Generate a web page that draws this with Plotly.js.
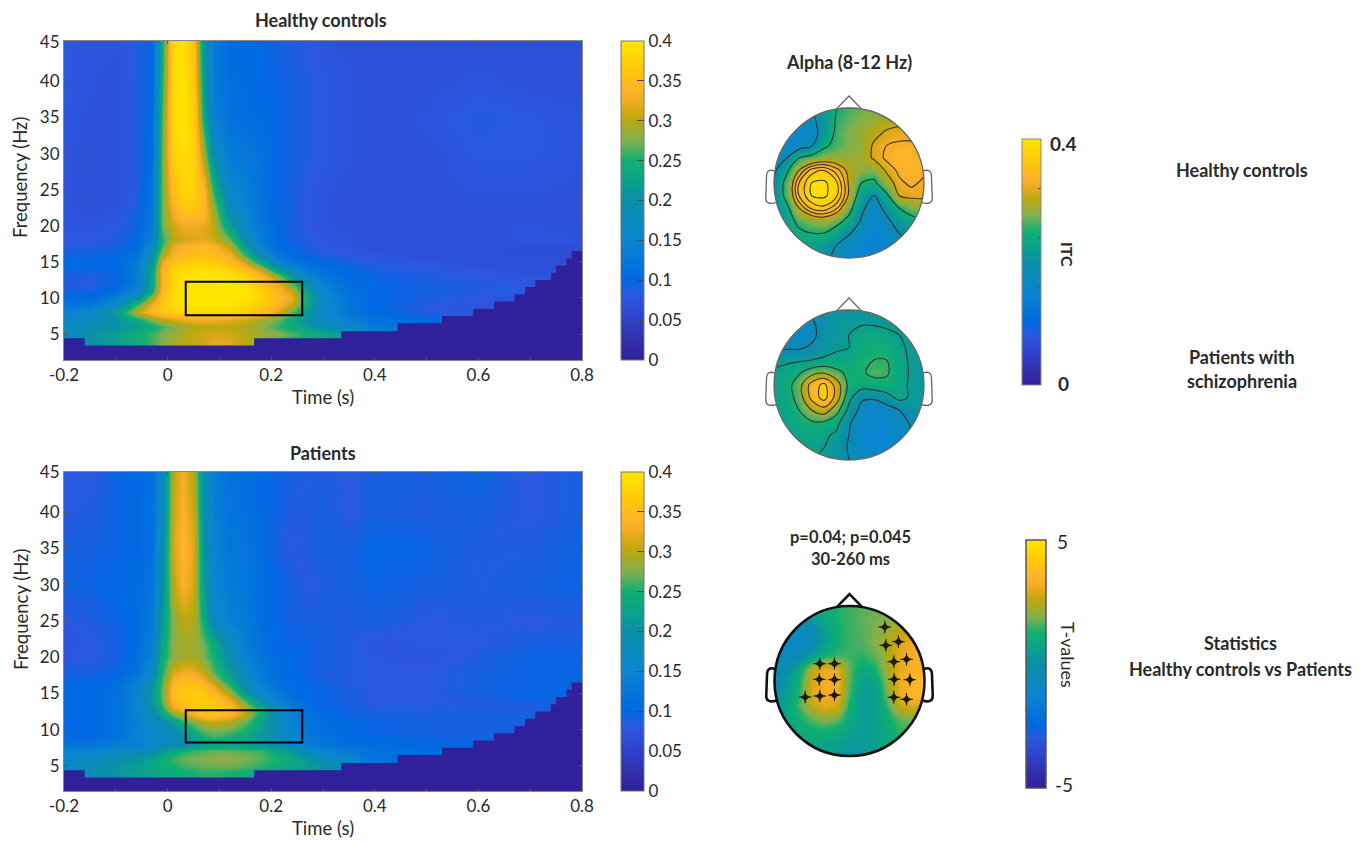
<!DOCTYPE html>
<html>
<head>
<meta charset="utf-8">
<script src="https://cdn.plot.ly/plotly-3.0.1.min.js"></script>
<style>
  html, body { margin: 0; padding: 0; background: #fff; }
  #chart { width: 1368px; height: 843px; }
</style>
</head>
<body>
<div id="chart"></div>
<script>
const timeTicks = [-0.2, 0, 0.2, 0.4, 0.6, 0.8];
const timeMinor = [-0.1, 0.1, 0.3, 0.5, 0.7];
const freqTicks = [5, 10, 15, 20, 25, 30, 35, 40, 45.5];
const freqLabels = ["5", "10", "15", "20", "25", "30", "35", "40", "45"];
const itcTicks = [0, 0.05, 0.1, 0.15, 0.2, 0.25, 0.3, 0.35, 0.4];
const itcLabels = ["0", "0.05", "0.1", "0.15", "0.2", "0.25", "0.3", "0.35", "0.4"];

const times = [-0.2, -0.15, -0.1, -0.06, -0.03, -0.01, 0.01, 0.03, 0.05, 0.07, 0.09, 0.12, 0.15, 0.18, 0.21, 0.24, 0.27, 0.3, 0.35, 0.4, 0.5, 0.6, 0.7, 0.8];
const freqs = [3, 4, 5, 6, 7, 8, 9, 10, 11, 12, 13, 14, 15, 16, 17, 18, 20, 22, 25, 30, 35, 40, 45.5];

const healthyItc = [
  [.16,.2,.22,.24,.26,.275,.29,.3,.305,.31,.32,.315,.3,.28,.26,.25,.24,.23,.2,.15,.08,.08,.08,.08],
  [.16,.2,.22,.24,.26,.275,.29,.3,.305,.31,.32,.315,.3,.28,.26,.25,.24,.23,.2,.15,.08,.08,.08,.08],
  [.17,.2,.22,.245,.26,.275,.285,.295,.305,.31,.315,.31,.3,.29,.28,.265,.25,.24,.22,.15,.09,.08,.08,.08],
  [.17,.19,.205,.22,.24,.26,.275,.285,.295,.3,.3,.3,.295,.28,.26,.24,.22,.19,.16,.13,.1,.08,.08,.08],
  [.16,.17,.2,.24,.275,.3,.31,.32,.325,.325,.325,.32,.31,.29,.27,.24,.2,.17,.14,.12,.1,.085,.08,.08],
  [.14,.16,.22,.3,.345,.365,.375,.38,.385,.385,.385,.38,.37,.35,.32,.27,.21,.16,.125,.105,.085,.075,.075,.075],
  [.125,.125,.17,.26,.33,.365,.385,.395,.4,.4,.4,.395,.385,.37,.345,.305,.235,.165,.125,.1,.08,.075,.075,.075],
  [.11,.105,.14,.2,.29,.355,.39,.4,.4,.4,.4,.4,.395,.38,.35,.32,.24,.16,.12,.1,.09,.08,.075,.075],
  [.09,.09,.11,.15,.24,.34,.385,.4,.4,.4,.4,.4,.395,.375,.345,.305,.22,.15,.115,.1,.09,.085,.08,.08],
  [.085,.08,.1,.135,.23,.335,.38,.395,.4,.4,.4,.4,.39,.365,.33,.27,.19,.14,.11,.1,.09,.085,.08,.08],
  [.09,.085,.095,.135,.23,.335,.38,.395,.4,.4,.4,.395,.375,.345,.29,.21,.15,.125,.105,.095,.085,.08,.075,.075],
  [.1,.095,.1,.135,.225,.335,.375,.385,.39,.39,.39,.375,.35,.3,.22,.16,.125,.11,.1,.09,.08,.075,.07,.07],
  [.1,.1,.105,.13,.21,.32,.36,.365,.37,.37,.365,.35,.31,.23,.16,.125,.11,.1,.09,.08,.075,.07,.07,.07],
  [.095,.095,.1,.12,.19,.29,.335,.345,.35,.355,.35,.33,.26,.175,.125,.105,.095,.085,.08,.075,.07,.07,.065,.065],
  [.085,.085,.09,.11,.17,.265,.32,.34,.345,.35,.34,.3,.22,.15,.11,.095,.085,.08,.075,.07,.07,.07,.07,.07],
  [.08,.08,.085,.1,.145,.25,.3,.31,.315,.32,.31,.27,.19,.135,.105,.09,.085,.08,.075,.07,.07,.07,.075,.075],
  [.08,.075,.08,.095,.135,.27,.31,.325,.325,.32,.3,.22,.16,.125,.1,.09,.08,.075,.07,.07,.07,.07,.075,.07],
  [.075,.07,.075,.09,.125,.27,.33,.36,.36,.345,.285,.18,.15,.12,.1,.09,.08,.075,.07,.07,.07,.07,.07,.07],
  [.075,.07,.07,.085,.12,.27,.35,.38,.375,.34,.25,.155,.14,.115,.1,.09,.08,.075,.07,.07,.07,.075,.075,.07],
  [.075,.07,.07,.085,.11,.27,.375,.39,.375,.29,.18,.13,.125,.115,.1,.09,.085,.08,.075,.07,.07,.08,.08,.075],
  [.08,.07,.07,.085,.105,.26,.385,.4,.37,.235,.14,.115,.11,.105,.1,.09,.085,.08,.075,.07,.075,.085,.08,.075],
  [.08,.075,.07,.085,.1,.25,.385,.4,.36,.215,.135,.11,.105,.1,.095,.09,.085,.08,.075,.07,.07,.075,.07,.07],
  [.08,.075,.075,.085,.1,.24,.38,.395,.35,.2,.13,.105,.1,.1,.09,.085,.08,.075,.07,.07,.07,.07,.07,.07]
];

const patientItc = [
  [.14,.18,.205,.22,.23,.235,.24,.245,.25,.255,.255,.25,.245,.235,.22,.21,.2,.19,.16,.13,.1,.09,.09,.09],
  [.14,.18,.205,.22,.23,.235,.24,.245,.25,.255,.255,.25,.245,.235,.22,.21,.2,.19,.16,.13,.1,.09,.09,.09],
  [.165,.185,.205,.22,.23,.24,.25,.26,.265,.27,.27,.27,.265,.255,.245,.235,.22,.205,.17,.13,.1,.09,.09,.09],
  [.16,.17,.19,.205,.225,.245,.26,.27,.275,.275,.28,.28,.275,.265,.25,.235,.21,.18,.15,.12,.1,.09,.09,.09],
  [.145,.15,.16,.17,.19,.215,.235,.25,.26,.265,.27,.27,.265,.26,.24,.21,.175,.15,.13,.115,.105,.1,.09,.09],
  [.115,.12,.13,.14,.15,.16,.175,.19,.205,.215,.22,.22,.215,.205,.185,.16,.135,.12,.11,.105,.1,.095,.09,.09],
  [.105,.105,.12,.14,.155,.165,.18,.2,.225,.25,.26,.25,.235,.21,.19,.155,.13,.115,.105,.1,.095,.09,.09,.09],
  [.1,.1,.115,.14,.16,.175,.19,.215,.25,.27,.275,.27,.25,.22,.185,.15,.125,.11,.1,.095,.09,.09,.09,.09],
  [.1,.1,.115,.14,.165,.19,.22,.25,.28,.3,.305,.295,.27,.225,.18,.14,.12,.11,.1,.095,.09,.09,.09,.09],
  [.1,.1,.115,.145,.18,.22,.27,.3,.33,.35,.355,.34,.3,.24,.18,.14,.115,.105,.095,.09,.09,.09,.09,.09],
  [.1,.1,.115,.15,.2,.25,.32,.34,.36,.365,.365,.345,.3,.235,.17,.13,.11,.1,.09,.085,.085,.085,.085,.09],
  [.1,.1,.115,.15,.21,.265,.345,.36,.365,.37,.36,.325,.265,.195,.15,.12,.105,.095,.09,.08,.08,.085,.09,.09],
  [.1,.1,.115,.145,.21,.27,.35,.365,.37,.36,.345,.29,.215,.16,.13,.11,.1,.095,.09,.08,.08,.09,.1,.095],
  [.1,.1,.11,.14,.2,.265,.345,.36,.36,.35,.32,.255,.185,.145,.12,.105,.1,.095,.085,.08,.08,.09,.095,.095],
  [.095,.095,.105,.13,.19,.26,.33,.345,.345,.325,.285,.23,.17,.135,.115,.105,.095,.09,.085,.08,.08,.09,.095,.095],
  [.09,.09,.095,.12,.17,.25,.31,.325,.325,.3,.265,.215,.16,.13,.11,.1,.095,.09,.085,.08,.08,.09,.095,.095],
  [.08,.08,.09,.11,.15,.24,.28,.29,.29,.275,.245,.19,.145,.12,.105,.1,.095,.09,.085,.08,.075,.085,.095,.095],
  [.075,.08,.09,.105,.14,.23,.28,.29,.29,.27,.235,.175,.135,.115,.1,.095,.095,.09,.085,.075,.08,.08,.09,.09],
  [.08,.085,.095,.105,.13,.215,.28,.3,.295,.24,.165,.14,.13,.11,.1,.09,.09,.09,.085,.09,.08,.085,.08,.085],
  [.09,.095,.1,.105,.12,.195,.3,.335,.31,.21,.15,.13,.125,.11,.1,.09,.08,.085,.09,.095,.09,.085,.09,.095],
  [.09,.09,.095,.1,.115,.185,.31,.345,.315,.205,.145,.125,.12,.105,.09,.08,.085,.09,.09,.1,.095,.085,.085,.095],
  [.08,.085,.095,.1,.115,.175,.305,.335,.305,.195,.14,.12,.115,.1,.095,.085,.085,.09,.08,.09,.085,.09,.08,.09],
  [.08,.08,.095,.1,.11,.165,.3,.33,.295,.185,.135,.115,.11,.1,.095,.09,.085,.085,.08,.09,.09,.095,.08,.09]
];

// edge of the blanked low-frequency region
const coiTime = [-0.2, -0.16, 0.167, 0.335, 0.444, 0.53, 0.59, 0.63, 0.67, 0.69, 0.71, 0.74, 0.75, 0.77, 0.78, 0.8];
const coiFreq = [4.4, 3.4, 4.4, 5.4, 6.5, 7.5, 8.5, 9.5, 10.5, 11.5, 12.5, 13.5, 14.5, 15.5, 16.5, 16.5];

const boxTime = [0.035, 0.26];
const healthyBoxFreq = [7.6, 12.25];
const patientBoxFreq = [8.25, 12.7];

const headX = [-1, -0.833, -0.667, -0.5, -0.333, -0.167, 0, 0.167, 0.333, 0.5, 0.667, 0.833, 1];
const headY = [-1, -0.833, -0.667, -0.5, -0.333, -0.167, 0, 0.167, 0.333, 0.5, 0.667, 0.833, 1];

// rows run from the back of the head to the nose
const healthyAlpha = [
  [.2,.21,.22,.215,.2,.18,.16,.15,.15,.15,.16,.17,.18],
  [.19,.215,.225,.225,.215,.19,.165,.15,.145,.15,.17,.19,.2],
  [.2,.22,.24,.25,.25,.225,.195,.165,.145,.16,.19,.21,.22],
  [.2,.225,.265,.28,.29,.27,.235,.185,.15,.18,.215,.235,.245],
  [.19,.235,.31,.355,.365,.335,.27,.2,.165,.205,.25,.275,.28],
  [.19,.27,.35,.39,.395,.375,.305,.215,.19,.24,.31,.32,.32],
  [.19,.27,.35,.39,.395,.375,.305,.25,.24,.29,.325,.335,.325],
  [.18,.24,.31,.36,.37,.34,.3,.28,.275,.315,.335,.34,.335],
  [.16,.19,.25,.27,.285,.285,.285,.29,.315,.335,.34,.34,.33],
  [.15,.155,.165,.185,.24,.265,.275,.285,.315,.33,.335,.335,.32],
  [.15,.15,.155,.17,.21,.26,.275,.285,.3,.315,.32,.32,.31],
  [.15,.15,.155,.18,.21,.255,.27,.28,.285,.295,.3,.3,.29],
  [.15,.15,.16,.185,.215,.25,.26,.27,.275,.28,.28,.28,.28]
];

const patientAlpha = [
  [.21,.215,.22,.22,.215,.205,.185,.165,.15,.15,.16,.175,.19],
  [.215,.22,.225,.225,.22,.21,.18,.16,.15,.15,.16,.175,.195],
  [.22,.225,.23,.23,.225,.215,.185,.16,.15,.15,.16,.18,.2],
  [.22,.225,.24,.25,.25,.23,.19,.16,.15,.15,.17,.19,.205],
  [.22,.23,.255,.29,.31,.27,.21,.175,.16,.17,.185,.205,.215],
  [.22,.235,.27,.335,.375,.31,.23,.19,.19,.205,.23,.215,.215],
  [.22,.24,.275,.34,.37,.31,.245,.235,.24,.245,.23,.215,.21],
  [.225,.23,.25,.275,.285,.265,.245,.25,.265,.26,.235,.215,.21],
  [.21,.215,.215,.22,.225,.23,.23,.25,.255,.255,.23,.215,.21],
  [.18,.18,.18,.19,.205,.215,.22,.24,.245,.245,.225,.215,.21],
  [.17,.17,.165,.175,.2,.21,.22,.235,.235,.23,.22,.21,.205],
  [.17,.165,.165,.18,.2,.21,.21,.215,.215,.21,.21,.205,.2],
  [.18,.18,.18,.19,.2,.205,.205,.205,.205,.205,.205,.2,.2]
];

const tValues = [
  [.5,.6,.7,.6,.5,.3,.1,.2,.4,.8,1.1,1.2,1.3],
  [.5,.7,.8,.8,.7,.5,.3,.3,.5,.9,1.3,1.4,1.4],
  [.5,.8,1,1.1,1.2,1,.6,.4,.5,1,1.4,1.5,1.5],
  [.4,.8,1.2,1.7,2,1.8,.9,.4,.5,1.1,1.7,1.9,1.9],
  [.2,.7,1.6,2.6,3,2.8,1.2,.3,.4,1.5,2.6,2.9,2.8],
  [0,.5,1.4,2.9,3.2,3.2,1.5,.3,.4,1.9,3.1,3.6,3.6],
  [-.2,.3,1.3,2.9,3.2,3.2,1.7,.5,.7,2.1,3.1,3.6,3.7],
  [-.5,-.1,.8,2.5,3.1,3,1.7,.9,1.2,2.3,3,3.4,3.5],
  [-.8,-.6,-.2,.5,1.2,1.5,1.5,1.4,1.7,2.3,3,3.3,3.3],
  [-1,-1,-.9,-.5,.5,1.2,1.5,1.6,1.9,2.3,2.9,3.1,3],
  [-.9,-.9,-.7,-.3,.5,1.2,1.5,1.6,1.9,2.2,2.5,2.7,2.7],
  [-.6,-.5,-.2,.3,.9,1.3,1.5,1.7,1.8,2,2.2,2.4,2.4],
  [.3,.3,.5,.7,1,1.3,1.5,1.6,1.7,1.8,2,2.2,2.2]
];

const sigX = [-.396, -.2, -.404, -.2, -.591, -.396, -.2, .471, .484, .653, .591, .76, .596, .804, .591, .76];
const sigY = [.231, .231, .022, .018, -.213, -.2, -.187, .72, .476, .524, .258, .289, .022, .018, -.218, -.244];

const parula = [
  [0, "#30209a"], [0.0625, "#3130ad"], [0.125, "#3040c8"], [0.2, "#2b58e0"],
  [0.25, "#0068e2"], [0.375, "#0a85d0"], [0.5, "#0a8fa8"], [0.5625, "#0aa38a"],
  [0.625, "#10b070"], [0.6875, "#80b050"], [0.75, "#b8a810"], [0.775, "#cfa814"],
  [0.8125, "#f2ab24"], [0.85, "#ffb42a"], [0.9, "#ffc40c"], [1, "#ffe600"],
];

const W = 1368;
const H = 843;
const FONT = "Lato, 'Open Sans', sans-serif";
const INK = "#2a2a2a";
const px = (x) => x / W;
const py = (y) => 1 - y / H;

function itcBar(top, bottom) {
  return {
    x: px(620.5),
    xanchor: "left",
    xpad: 0,
    y: py(top),
    yanchor: "top",
    ypad: 0,
    thickness: 23,
    len: bottom - top,
    lenmode: "pixels",
    outlinecolor: "#777",
    outlinewidth: 1,
    tickmode: "array",
    tickvals: itcTicks,
    ticktext: itcLabels,
    ticks: "inside",
    ticklen: 7,
    tickcolor: "#444",
    tickfont: { family: FONT, size: 17, color: INK },
  };
}

function timeFreqTraces(z, bar, xa, ya) {
  return [
    {
      type: "heatmap",
      x: times,
      y: freqs,
      z: z,
      xaxis: xa,
      yaxis: ya,
      zmin: 0,
      zmax: 0.4,
      zsmooth: "best",
      colorscale: parula,
      colorbar: bar,
      hoverinfo: "skip",
    },
    {
      type: "scatter",
      mode: "lines",
      x: coiTime,
      y: coiFreq,
      xaxis: xa,
      yaxis: ya,
      line: { shape: "hv", width: 0, color: "#30209a" },
      fill: "tozeroy",
      fillcolor: "#30209a",
      showlegend: false,
      hoverinfo: "skip",
    },
  ];
}

function alphaMap(z, xa, ya, bar) {
  const map = {
    type: "heatmap",
    x: headX,
    y: headY,
    z: z,
    xaxis: xa,
    yaxis: ya,
    zmin: 0,
    zmax: 0.4,
    zsmooth: "best",
    colorscale: parula,
    hoverinfo: "skip",
    showscale: Boolean(bar),
  };
  if (bar) {
    map.colorbar = bar;
  }
  return map;
}

function contourTrace(z, levels, xa, ya) {
  return {
    type: "contour",
    x: headX,
    y: headY,
    z: z,
    xaxis: xa,
    yaxis: ya,
    autocontour: false,
    showscale: false,
    contours: { coloring: "none", start: levels[0], end: levels[1], size: levels[2] },
    line: { color: "#333", width: 1.1, smoothing: 1 },
    hoverinfo: "skip",
  };
}

function headShapes(xa, ya, color, width) {
  let circle = "";
  for (let i = 0; i <= 120; i++) {
    const a = (i / 120) * 2 * Math.PI;
    circle += `${i === 0 ? "M" : "L"}${Math.cos(a).toFixed(4)},${Math.sin(a).toFixed(4)} `;
  }
  const line = { color: color, width: width };
  const base = { type: "path", xref: xa, yref: ya, line: line };
  return [
    {
      type: "path",
      xref: xa,
      yref: ya,
      path: `M-1.25,-1.25 L1.25,-1.25 L1.25,1.25 L-1.25,1.25 Z ${circle}Z`,
      fillcolor: "#fff",
      line: { width: 0 },
    },
    { type: "circle", xref: xa, yref: ya, x0: -1, x1: 1, y0: -1, y1: 1, line: line },
    { ...base, path: "M-0.17,0.985 L0,1.16 L0.17,0.985" },
    { ...base, path: "M-0.99,0.16 Q-1.1,0.2 -1.1,0.08 L-1.11,-0.2 Q-1.11,-0.3 -0.97,-0.26" },
    { ...base, path: "M0.99,0.16 Q1.1,0.2 1.1,0.08 L1.11,-0.2 Q1.11,-0.3 0.97,-0.26" },
  ];
}

function timeAxis(left, right, anchor, titleText) {
  return {
    domain: [px(left), px(right)],
    anchor: anchor,
    range: [-0.2, 0.8],
    tickmode: "array",
    tickvals: timeTicks,
    ticktext: timeTicks.map(String),
    minor: { tickvals: timeMinor, ticks: "inside", ticklen: 3, tickcolor: "#555" },
    ticks: "inside",
    ticklen: 3,
    tickcolor: "#555",
    linecolor: "#888",
    showline: true,
    mirror: "ticks",
    showgrid: false,
    zeroline: false,
    tickfont: { family: FONT, size: 17, color: INK },
    title: { text: titleText, standoff: 6, font: { family: FONT, size: 18.5, color: INK } },
  };
}

function freqAxis(top, bottom, anchor, range) {
  return {
    domain: [py(bottom), py(top)],
    anchor: anchor,
    range: range,
    tickmode: "array",
    tickvals: freqTicks,
    ticktext: freqLabels,
    ticks: "inside",
    ticklen: 3,
    tickcolor: "#555",
    linecolor: "#888",
    showline: true,
    mirror: "ticks",
    showgrid: false,
    zeroline: false,
    tickfont: { family: FONT, size: 17, color: INK },
  };
}

function headAxes(cx, cy, r, anchorX, anchorY) {
  const pad = 1.25;
  const xaxis = {
    domain: [px(cx - pad * r), px(cx + pad * r)],
    range: [-pad, pad],
    visible: false,
    fixedrange: true,
    anchor: anchorX,
  };
  const yaxis = {
    domain: [py(cy + pad * r), py(cy - pad * r)],
    range: [-pad, pad],
    visible: false,
    fixedrange: true,
    anchor: anchorY,
  };
  return [xaxis, yaxis];
}

function label(text, x, y, size, extra) {
  return {
    text: text,
    xref: "paper",
    yref: "paper",
    x: px(x),
    y: py(y),
    showarrow: false,
    xanchor: "center",
    yanchor: "middle",
    font: { family: FONT, size: size, color: INK },
    ...extra,
  };
}

const [topo1X, topo1Y] = headAxes(849, 183, 75, "y3", "x3");
const [topo2X, topo2Y] = headAxes(849, 385, 75, "y4", "x4");
const [topo3X, topo3Y] = headAxes(849.5, 681, 75, "y5", "x5");

const itcTopoBar = {
  x: px(1022),
  xanchor: "left",
  xpad: 0,
  y: py(139),
  yanchor: "top",
  ypad: 0,
  thickness: 19,
  len: 246,
  lenmode: "pixels",
  outlinecolor: "#888",
  outlinewidth: 1,
  tickmode: "array",
  tickvals: [0.08, 0.16, 0.24, 0.32],
  ticktext: ["", "", "", ""],
  ticks: "inside",
  ticklen: 3,
  tickcolor: "#555",
};

const tBar = {
  x: px(1026),
  xanchor: "left",
  xpad: 0,
  y: py(540),
  yanchor: "top",
  ypad: 0,
  thickness: 20,
  len: 248,
  lenmode: "pixels",
  outlinecolor: "#555",
  outlinewidth: 1.5,
  tickmode: "array",
  tickvals: [0],
  ticktext: [""],
  ticks: "inside",
  ticklen: 3,
  tickcolor: "#555",
};

const traces = [
  ...timeFreqTraces(healthyItc, itcBar(41, 360), "x", "y"),
  ...timeFreqTraces(patientItc, itcBar(472, 791), "x2", "y2"),
  alphaMap(healthyAlpha, "x3", "y3", itcTopoBar),
  contourTrace(healthyAlpha, [0.19, 0.31, 0.06], "x3", "y3"),
  contourTrace(healthyAlpha, [0.33, 0.39, 0.02], "x3", "y3"),
  alphaMap(patientAlpha, "x4", "y4", null),
  contourTrace(patientAlpha, [0.185, 0.36, 0.035], "x4", "y4"),
  {
    type: "heatmap",
    x: headX,
    y: headY,
    z: tValues,
    xaxis: "x5",
    yaxis: "y5",
    zmin: -5,
    zmax: 5,
    zsmooth: "best",
    colorscale: parula,
    colorbar: tBar,
    hoverinfo: "skip",
  },
  {
    type: "scatter",
    mode: "markers",
    x: sigX,
    y: sigY,
    xaxis: "x5",
    yaxis: "y5",
    marker: { symbol: "star-diamond", size: 8, color: "#1c1c10" },
    showlegend: false,
    hoverinfo: "skip",
  },
  {
    type: "scatter",
    mode: "markers",
    x: sigX,
    y: sigY,
    xaxis: "x5",
    yaxis: "y5",
    marker: { symbol: "cross-thin-open", size: 9, color: "#1c1c10", line: { color: "#1c1c10", width: 1 } },
    showlegend: false,
    hoverinfo: "skip",
  },
];

const boxLine = { color: "#000", width: 2 };
const shapes = [
  { type: "rect", xref: "x", yref: "y", x0: boxTime[0], x1: boxTime[1], y0: healthyBoxFreq[0], y1: healthyBoxFreq[1], line: boxLine },
  { type: "rect", xref: "x2", yref: "y2", x0: boxTime[0], x1: boxTime[1], y0: patientBoxFreq[0], y1: patientBoxFreq[1], line: boxLine },
  ...headShapes("x3", "y3", "#666", 1.3),
  ...headShapes("x4", "y4", "#666", 1.3),
  ...headShapes("x5", "y5", "#111", 2.6),
];

const annotations = [
  label("<b>Healthy controls</b>", 321, 20, 18),
  label("<b>Patients</b>", 323, 453, 18),
  label("Frequency (Hz)", 20, 178, 18.5, { textangle: -90 }),
  label("Frequency (Hz)", 21, 610, 18.5, { textangle: -90 }),
  label("<b>Alpha (8-12 Hz)</b>", 849, 62, 18),
  label("<b>0.4</b>", 1063, 143, 19),
  label("<b>0</b>", 1063, 383, 19),
  label("<b>ITC</b>", 1067, 254, 16, { textangle: 90 }),
  label("<b>Healthy controls</b>", 1242, 170, 18),
  label("<b>Patients with</b>", 1242, 357, 18),
  label("<b>schizophrenia</b>", 1242, 381, 18),
  label("<b>p=0.04; p=0.045</b>", 850, 537, 16.5),
  label("<b>30-260 ms</b>", 850, 559, 16.5),
  label("5", 1062, 541, 19),
  label("-5", 1064, 784, 19),
  label("T-values", 1068, 655, 18, { textangle: 90 }),
  label("<b>Statistics</b>", 1240, 643, 18),
  label("<b>Healthy controls vs Patients</b>", 1240, 669, 18),
];

const layout = {
  width: W,
  height: H,
  margin: { l: 0, r: 0, t: 0, b: 0 },
  paper_bgcolor: "#fff",
  plot_bgcolor: "#fff",
  showlegend: false,
  font: { family: FONT },
  xaxis: timeAxis(64, 582, "y", "Time (s)"),
  yaxis: freqAxis(41, 360, "x", [1.4, 45.6]),
  xaxis2: timeAxis(64, 582, "y2", "Time (s)"),
  yaxis2: freqAxis(472, 791, "x2", [1.55, 45.55]),
  xaxis3: topo1X,
  yaxis3: topo1Y,
  xaxis4: topo2X,
  yaxis4: topo2Y,
  xaxis5: topo3X,
  yaxis5: topo3Y,
  shapes: shapes,
  annotations: annotations,
};

Plotly.newPlot("chart", traces, layout, { displayModeBar: false, responsive: false });
</script>
</body>
</html>
